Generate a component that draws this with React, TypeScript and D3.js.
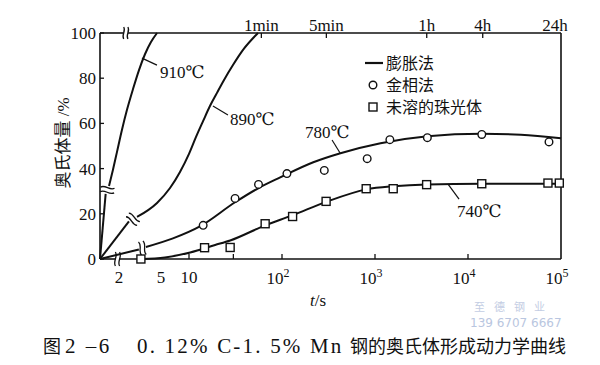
import React from 'react';
import * as d3 from 'd3';

// ---- data (time in s, austenite %) ----
const t910 = [0, 1.27, 1.38, 1.52, 1.68, 1.90, 2.15, 2.50, 2.90, 3.37, 3.90, 4.53];
const v910 = [0, 28.8, 32.3, 39.4, 47.3, 57.1, 65.9, 75.2, 83.6, 90.7, 96.0, 100];
const t890 = [0, 2.26, 2.76, 4.53, 6.25, 8.0, 10.0, 11.9, 14.2, 16.8, 20.0, 23.8, 29.7, 38.1, 55.2];
const v890 = [0, 16.6, 18.6, 24.8, 31.4, 38.5, 46.5, 54.0, 61.1, 67.7, 73.5, 79.2, 85.8, 92.5, 100];
const t780 = [0, 2.89, 3.44, 6.72, 13.1, 31.3, 55.5, 95.7, 217, 425, 1147, 3681, 14060, 37060, 100000];
const v780 = [0, 4.2, 5.3, 9.1, 14.4, 25.1, 31.3, 36.1, 42.8, 46.8, 51.2, 54.3, 55.4, 55.0, 53.4];
const t740 = [3.04, 5.51, 10.3, 19.1, 27.7, 65.9, 129, 300, 810, 1581, 3590, 14060, 100000];
const v740 = [0, 0.7, 2.9, 6.2, 8.2, 14.9, 19.3, 25.3, 30.8, 32.2, 33.0, 33.3, 33.3];

const tMetal = [14.2, 31.3, 55.9, 113, 285, 824, 1445, 3656, 14070, 74300];
const vMetal = [14.9, 26.8, 33.0, 37.8, 39.2, 44.4, 52.8, 53.7, 55.1, 51.8];
const tPearl = [3.04, 14.7, 27.7, 65.9, 130, 298, 804, 1570, 3590, 14060, 72400, 95900];
const vPearl = [0, 5.0, 5.1, 15.6, 18.8, 25.5, 31.1, 31.1, 32.9, 33.3, 33.6, 33.6];

const yTicks = [0, 20, 40, 60, 80, 100];
const xTickMarks = [10, 30, 100, 1000, 10000];
const xSmallLabels = ['2', '5', '10'];
const xSmallValues = [2, 5, 10];
const xPowLabels = ['2', '3', '4', '5'];
const xPowValues = [100, 1000, 10000, 100000];
const topLabels = ['1min', '5min', '1h', '4h', '24h'];
const topValues = [60, 300, 3600, 14400, 86400];
const topTickValues = [60, 300, 3600, 14400];

const curveNames = ['910℃', '890℃', '780℃', '740℃'];
const labelT = [3.12, 18.1, 421, 6100];
const labelV = [88.9, 67.7, 46.9, 33.1];

const legendLabels = ['膨胀法', '金相法', '未溶的珠光体'];

const W = 600;
const H = 365;
const SERIF = 'Liberation Serif, DejaVu Serif, serif';
const CJK = 'Noto Sans CJK SC, Noto Sans, sans-serif';

export default function App() {
  const x = d3.scaleLog().domain([10, 1e5]).range([189, 561]);
  const y = d3.scaleLinear().domain([0, 100]).range([259, 33]);
  const X0 = 100;
  const XR = 561;
  const px = (t: number) => (t === 0 ? X0 : x(t));
  const pts = (ts: number[], vs: number[]) => ts.map((t, i) => [px(t), y(vs[i])] as [number, number]);
  const smooth = d3.line().curve(d3.curveMonotoneX);
  const straight = d3.line();

  const breakMark = (cx: number, cy: number, ux: number, uy: number, key: string, h = 7, w = 3.2, gap = 2.3) => {
    const nx = -uy, ny = ux;
    const paths: string[] = [];
    for (const s of [-gap, gap]) {
      const sx = cx + ux * s, sy = cy + uy * s;
      const p0 = [sx - nx * h, sy - ny * h];
      const p3 = [sx + nx * h, sy + ny * h];
      const p1 = [sx - nx * h / 3 + ux * w, sy - ny * h / 3 + uy * w];
      const p2 = [sx + nx * h / 3 - ux * w, sy + ny * h / 3 - uy * w];
      paths.push(`M${p0[0]},${p0[1]}C${p1[0]},${p1[1]} ${p2[0]},${p2[1]} ${p3[0]},${p3[1]}`);
    }
    return paths.map((d, i) => <path key={key + i} d={d} fill="none" stroke="#111" strokeWidth={1.3} />);
  };

  const brokenCurve = (ts: number[], vs: number[], key: string) => {
    const p = pts(ts, vs);
    const lead = p.slice(0, 2);
    const main = p.slice(2);
    const dx = lead[1][0] - lead[0][0], dy = lead[1][1] - lead[0][1];
    const L = Math.hypot(dx, dy);
    const ux = dx / L, uy = dy / L;
    const cx = (lead[1][0] + main[0][0]) / 2, cy = (lead[1][1] + main[0][1]) / 2;
    return (
      <g key={key}>
        <path d={straight(lead) || ''} fill="none" stroke="#111" strokeWidth={2} />
        <path d={smooth(main) || ''} fill="none" stroke="#111" strokeWidth={2} />
        {breakMark(cx, cy, ux, uy, key + 'b')}
      </g>
    );
  };

  const p740 = pts(t740, v740);
  const labelOffsets = [
    { ex: 15, ey: 7, tx: 18, ty: 20 },
    { ex: 15, ey: 9, tx: 17, ty: 19 },
    { ex: -8, ey: -13, tx: -35, ty: -15 },
    { ex: 11, ey: 15, tx: 9, ty: 33 },
  ];

  const bottomY = y(0);
  const topY = y(100);
  const legendY = [63, 85, 107];

  return (
    <svg width={W} height={H} style={{ position: 'absolute', left: 0, top: 0, background: '#fff' }}>
      <rect x={0} y={0} width={W} height={H} fill="#fff" />
      {/* frame */}
      <line x1={X0} y1={topY} x2={X0} y2={bottomY} stroke="#111" strokeWidth={1.6} />
      <line x1={XR} y1={topY} x2={XR} y2={bottomY} stroke="#111" strokeWidth={1.6} />
      <line x1={X0} y1={bottomY} x2={115.5} y2={bottomY} stroke="#111" strokeWidth={1.6} />
      <line x1={119.5} y1={bottomY} x2={XR} y2={bottomY} stroke="#111" strokeWidth={1.6} />
      <line x1={X0} y1={topY} x2={123.5} y2={topY} stroke="#111" strokeWidth={1.6} />
      <line x1={128} y1={topY} x2={XR} y2={topY} stroke="#111" strokeWidth={1.6} />
      {breakMark(117.5, bottomY, 1, 0, 'xb', 7, 2.8, 2.1)}
      {breakMark(125.8, topY, 1, 0, 'tb', 6, 2.6, 2.1)}

      {/* y ticks */}
      {yTicks.map((v) => (
        <g key={'yt' + v}>
          <line x1={X0} x2={X0 + 4} y1={y(v)} y2={y(v)} stroke="#111" strokeWidth={1.3} />
          <text x={96} y={y(v) + 6} textAnchor="end" fontFamily={SERIF} fontSize={17} fill="#111">{v}</text>
        </g>
      ))}
      {/* bottom ticks */}
      {xTickMarks.map((t) => (
        <line key={'xt' + t} x1={x(t)} x2={x(t)} y1={bottomY} y2={bottomY - 5} stroke="#111" strokeWidth={1.3} />
      ))}
      {xSmallLabels.map((s, i) => (
        <text key={'xs' + s} x={x(xSmallValues[i]) + (i === 0 ? -5 : 0)} y={283} textAnchor="middle" fontFamily={SERIF} fontSize={17} fill="#111">{s}</text>
      ))}
      {xPowLabels.map((s, i) => (
        <text key={'xp' + s} x={x(xPowValues[i]) - 4} y={284} textAnchor="middle" fontFamily={SERIF} fontSize={17} fill="#111">
          10<tspan dy={-7} fontSize={12}>{s}</tspan>
        </text>
      ))}
      {/* top ticks */}
      {topTickValues.map((t) => (
        <line key={'tt' + t} x1={x(t)} x2={x(t)} y1={topY} y2={topY + 5} stroke="#111" strokeWidth={1.3} />
      ))}
      {topLabels.map((s, i) => (
        <text key={'tl' + s} x={x(topValues[i])} y={topY - 2} textAnchor="middle" fontFamily={SERIF} fontSize={17} fill="#111">{s}</text>
      ))}

      {/* axis titles */}
      <text transform={`translate(69,143) rotate(-90)`} textAnchor="middle" fontSize={17} fill="#111">
        <tspan fontFamily={CJK}>奥氏体量</tspan>
        <tspan fontFamily={SERIF}> /%</tspan>
      </text>
      <text x={318} y={306} textAnchor="middle" fontFamily={SERIF} fontSize={17} fill="#111">
        <tspan fontStyle="italic">t</tspan>/s
      </text>

      {/* curves */}
      {brokenCurve(t910, v910, 'c910')}
      {brokenCurve(t890, v890, 'c890')}
      {brokenCurve(t780, v780, 'c780')}
      <path d={smooth(p740) || ''} fill="none" stroke="#111" strokeWidth={2} />

      {/* markers */}
      {tMetal.map((t, i) => (
        <circle key={'m' + i} cx={x(t)} cy={y(vMetal[i])} r={3.8} fill="#fff" stroke="#111" strokeWidth={1.4} />
      ))}
      {tPearl.map((t, i) => (
        <rect key={'p' + i} x={x(t) - 4} y={y(vPearl[i]) - 4} width={8} height={8} fill="#fff" stroke="#111" strokeWidth={1.4} />
      ))}

      {/* curve labels */}
      {curveNames.map((s, i) => {
        const cx = x(labelT[i]);
        const cy = y(labelV[i]);
        const o = labelOffsets[i];
        return (
          <g key={'lab' + i}>
            <line x1={cx} y1={cy} x2={cx + o.ex} y2={cy + o.ey} stroke="#111" strokeWidth={1.2} />
            <text x={cx + o.tx} y={cy + o.ty} fontFamily={SERIF} fontSize={17} fill="#111">{s}</text>
          </g>
        );
      })}

      {/* legend */}
      <line x1={365} x2={383} y1={legendY[0]} y2={legendY[0]} stroke="#111" strokeWidth={2.2} />
      <circle cx={373} cy={legendY[1]} r={3.8} fill="#fff" stroke="#111" strokeWidth={1.4} />
      <rect x={369} y={legendY[2] - 4} width={8} height={8} fill="#fff" stroke="#111" strokeWidth={1.4} />
      {legendLabels.map((s, i) => (
        <text key={'lg' + i} x={386} y={legendY[i] + 6} fontFamily={CJK} fontSize={16} fill="#111">{s}</text>
      ))}

      {/* watermark */}
      <text x={474} y={311} fontFamily={CJK} fontSize={11} fill="#c3cde3" letterSpacing={9}>至德钢业</text>
      <text x={470} y={327} fontFamily="DejaVu Sans, sans-serif" fontSize={12} fill="#b9c6e0">139 6707 6667</text>

      {/* caption */}
      <text x={43} y={353} fontFamily={CJK} fontSize={18} fill="#111">图</text>
      <text x={65} y={353} fontFamily={SERIF} fontSize={21} fill="#111" letterSpacing={2.5}>2 –6</text>
      <text x={137} y={353} fontFamily={SERIF} fontSize={21} fill="#111" letterSpacing={2.2}>0. 12% C-1. 5% Mn</text>
      <text x={350} y={353} fontFamily={CJK} fontSize={18} fill="#111">钢的奥氏体形成动力学曲线</text>
    </svg>
  );
}
